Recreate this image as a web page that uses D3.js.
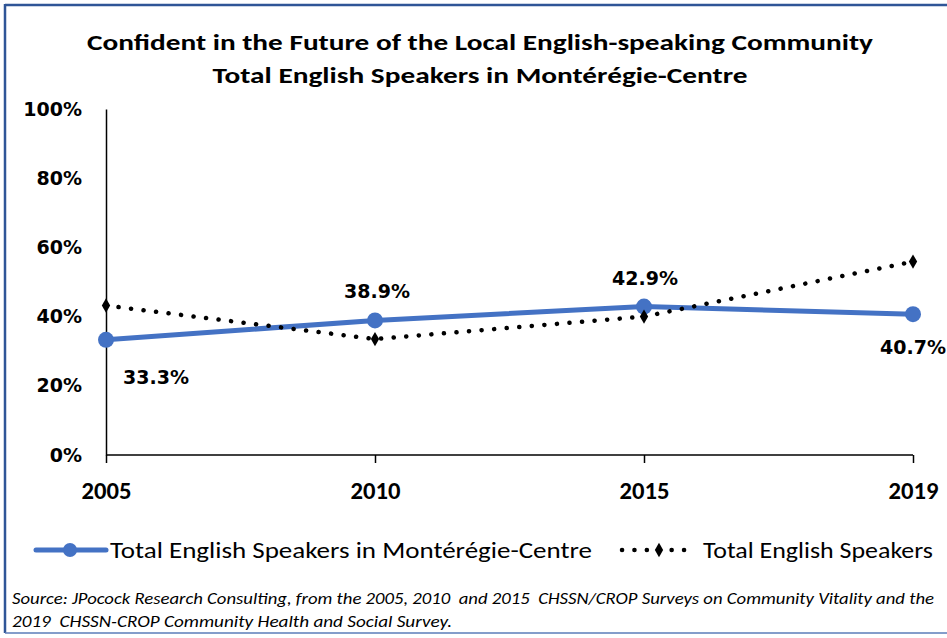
<!DOCTYPE html>
<html>
<head>
<meta charset="utf-8">
<script src="https://cdn.jsdelivr.net/npm/d3@7"></script>
<style>
html,body{margin:0;padding:0;background:#fff;}
svg{display:block;}
</style>
</head>
<body>
<svg id="chart" width="947" height="638"></svg>
<script>
// ---- data ----
const years = ["2005", "2010", "2015", "2019"];
const monteregieCentre = [0.333, 0.389, 0.429, 0.407];
const totalEnglish = [0.432, 0.335, 0.400, 0.559];
const yTicks = [0, 0.2, 0.4, 0.6, 0.8, 1.0];
const seriesNames = ["Total English Speakers in Montérégie-Centre", "Total English Speakers"];
const titleLines = ["Confident in the Future of the Local English-speaking Community",
                    "Total English Speakers in Montérégie-Centre"];
const sourceLines = ["Source: JPocock Research Consulting, from the 2005, 2010  and 2015  CHSSN/CROP Surveys on Community Vitality and the",
                     "2019  CHSSN-CROP Community Health and Social Survey."];

const svg = d3.select("#chart");
const CAL = "Carlito, Calibri, Lato, 'Open Sans', sans-serif";
const VER = "Verdana, 'DejaVu Sans', sans-serif";
const BLUE = "#4472C4";

function fit(sel, w) {
  sel.attr("textLength", w).attr("lengthAdjust", "spacingAndGlyphs");
}

// border
svg.append("line").attr("x1", 5).attr("y1", 5).attr("x2", 947).attr("y2", 5)
  .attr("stroke", "#2F5597").attr("stroke-width", 2.5);
svg.append("line").attr("x1", 5).attr("y1", 4).attr("x2", 5).attr("y2", 633)
  .attr("stroke", "#2F5597").attr("stroke-width", 2.5);
svg.append("line").attr("x1", 5).attr("y1", 633).attr("x2", 947).attr("y2", 633)
  .attr("stroke", "#5B7DB8").attr("stroke-width", 1.5);

// title
const tW = [786, 535];
const tY = [50, 83];
titleLines.forEach((t, i) => {
  svg.append("text").attr("x", 480).attr("y", tY[i]).attr("text-anchor", "middle")
    .attr("font-family", CAL).attr("font-weight", "bold").attr("font-size", 23)
    .attr("fill", "#000").text(t).call(fit, tW[i]);
});

// scales
const x = d3.scalePoint().domain(years).range([106, 913]);
const y = d3.scaleLinear().domain([0, 1]).range([455, 109]);

// y axis
const yAxis = svg.append("g").attr("transform", "translate(106,0)")
  .call(d3.axisLeft(y).tickValues(yTicks).tickFormat(d3.format(".0%")).tickSize(0).tickPadding(24));
yAxis.select(".domain").attr("stroke", "#000").attr("stroke-width", 1.5);
yAxis.selectAll("text").attr("font-family", VER).attr("font-weight", "bold")
  .attr("font-size", 19).attr("fill", "#000");

// x axis
const xAxis = svg.append("g").attr("transform", "translate(0,455)")
  .call(d3.axisBottom(x).tickSizeInner(8).tickSizeOuter(0).tickPadding(0));
xAxis.select(".domain").attr("stroke", "#000").attr("stroke-width", 1.5).attr("d", `M${x(years[0])},0H${x(years[3])}`);
xAxis.selectAll(".tick line").attr("stroke", "#000").attr("stroke-width", 1.5);
xAxis.selectAll("text").attr("font-family", CAL).attr("font-weight", "bold")
  .attr("font-size", 24).attr("fill", "#000").attr("dy", 0).attr("y", 44)
  .each(function(){ d3.select(this).call(fit, 50); });

// blue series
const line = d3.line().x((d, i) => x(years[i])).y(d => y(d));
svg.append("path").datum(monteregieCentre).attr("d", line)
  .attr("fill", "none").attr("stroke", BLUE).attr("stroke-width", 5).attr("stroke-linejoin", "round");
svg.selectAll("circle.mc").data(monteregieCentre).join("circle").attr("class", "mc")
  .attr("cx", (d, i) => x(years[i])).attr("cy", d => y(d)).attr("r", 8).attr("fill", BLUE);

// dotted series
svg.append("path").datum(totalEnglish).attr("d", line)
  .attr("fill", "none").attr("stroke", "#000").attr("stroke-width", 4.5)
  .attr("stroke-linecap", "round").attr("stroke-dasharray", "0.1 12.5");
const diamond = d3.symbol().type(d3.symbolDiamond).size(60);
svg.selectAll("path.te").data(totalEnglish).join("path").attr("class", "te")
  .attr("d", diamond).attr("transform", (d, i) => `translate(${x(years[i])},${y(d)})`)
  .attr("fill", "#000");

// data labels for blue series
const lblOff = [[50, 44], [2, -22], [1, -22], [0, 40]];
svg.selectAll("text.lbl").data(monteregieCentre).join("text").attr("class", "lbl")
  .attr("x", (d, i) => x(years[i]) + lblOff[i][0])
  .attr("y", (d, i) => y(d) + lblOff[i][1])
  .attr("text-anchor", "middle").attr("font-family", VER).attr("font-weight", "bold")
  .attr("font-size", 19).attr("fill", "#000")
  .text(d => d3.format(".1%")(d));

// legend
const lg = svg.append("g");
lg.append("line").attr("x1", 36).attr("x2", 106).attr("y1", 550).attr("y2", 550)
  .attr("stroke", BLUE).attr("stroke-width", 5).attr("stroke-linecap", "round");
lg.append("circle").attr("cx", 70).attr("cy", 550).attr("r", 7).attr("fill", BLUE);
lg.append("text").attr("x", 110).attr("y", 558).attr("font-family", CAL).attr("font-size", 22)
  .attr("fill", "#000").text(seriesNames[0]).call(fit, 482);
lg.append("line").attr("x1", 622).attr("x2", 696).attr("y1", 550).attr("y2", 550)
  .attr("stroke", "#000").attr("stroke-width", 4.5).attr("stroke-linecap", "round")
  .attr("stroke-dasharray", "0.1 12.3");
lg.append("path").attr("d", diamond).attr("transform", "translate(659,550)").attr("fill", "#000");
lg.append("text").attr("x", 703).attr("y", 558).attr("font-family", CAL).attr("font-size", 22)
  .attr("fill", "#000").text(seriesNames[1]).call(fit, 230);

// source
const sY = [604, 627], sW = [922, 440];
sourceLines.forEach((t, i) => {
  svg.append("text").attr("x", 12).attr("y", sY[i]).attr("font-family", CAL)
    .attr("font-style", "italic").attr("font-size", 15.5).attr("fill", "#000")
    .attr("xml:space", "preserve").style("white-space", "pre")
    .text(t).call(fit, sW[i]);
});
</script>
</body>
</html>
